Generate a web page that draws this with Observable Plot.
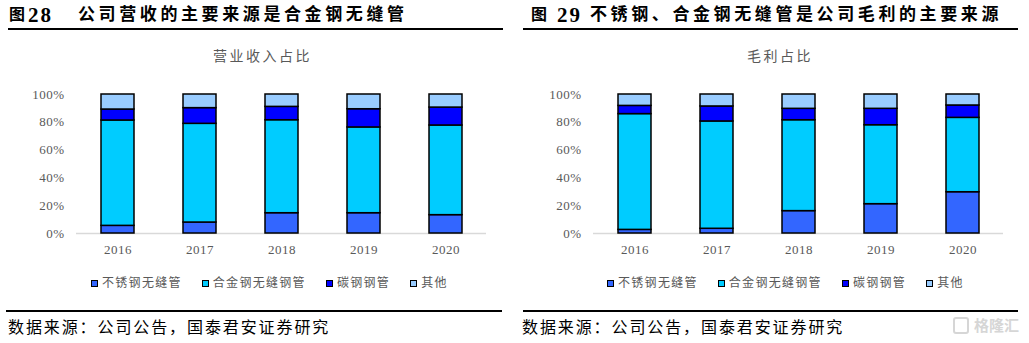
<!DOCTYPE html>
<html>
<head>
<meta charset="utf-8">
<script src="https://cdn.jsdelivr.net/npm/d3@7"></script>
<script src="https://cdn.jsdelivr.net/npm/@observablehq/plot@0.6"></script>
<style>
  html, body { margin: 0; padding: 0; background: #fff; }
  #page { position: relative; width: 1029px; height: 343px; overflow: hidden; background: #fff;
          font-family: "Liberation Serif", "Noto Sans CJK SC", serif; }
  .abs { position: absolute; white-space: nowrap; }
  .title { font-size: 17px; line-height: 20px; font-weight: bold; color: #000; letter-spacing: 3.6px; }
  .fig { font-size: 16px; line-height: 20px; font-weight: bold; color: #000; letter-spacing: 0; }
  .num { font-size: 21px; line-height: 20px; font-weight: bold; color: #000; letter-spacing: 2px; }
  .rule { position: absolute; height: 2px; background: #000; }
  .sub { font-size: 14px; line-height: 16px; color: #595959; letter-spacing: 2.5px; }
  .legend { display: flex; gap: 20px; font-size: 12px; line-height: 14px; color: #595959; letter-spacing: 1.3px; }
  .item { display: flex; align-items: center; }
  .sw { width: 5px; height: 5px; border: 1px solid #000; margin-right: 4px; }
  .src { font-size: 16px; line-height: 18px; color: #000; letter-spacing: 1.9px; }
  .wm { color: #d6d6d6; font-size: 15px; line-height: 18px; font-weight: bold; font-family: "Noto Sans CJK SC"; letter-spacing: 0px; }
  .wmicon { width: 12px; height: 13px; border: 2px solid #d6d6d6; border-radius: 3px; }
</style>
</head>
<body>
<div id="page"></div>
<script>
// ---- data ----
const years = ["2016", "2017", "2018", "2019", "2020"];
const seriesNames = ["不锈钢无缝管", "合金钢无缝钢管", "碳钢钢管", "其他"];
const seriesColors = ["#3366FF", "#00CCFF", "#0000FF", "#99CCFF"];
const yTicks = [0, 20, 40, 60, 80, 100];

// 营业收入占比 (%)
const revStainless = [5.5, 7.9, 14.6, 14.6, 13.2];
const revAlloy     = [75.8, 71.0, 66.9, 61.7, 64.5];
const revCarbon    = [7.9, 11.3, 9.6, 13.1, 12.9];
const revOther     = [10.8, 9.8, 8.9, 10.6, 9.4];

// 毛利占比 (%)
const gpStainless = [2.6, 3.4, 16.1, 21.1, 29.7];
const gpAlloy     = [83.3, 77.2, 65.4, 56.8, 53.5];
const gpCarbon    = [5.9, 10.8, 8.2, 11.8, 8.9];
const gpOther     = [8.2, 8.6, 10.3, 10.3, 7.9];

const panels = [
  {
    left: 0, figNo: "28", title: "公司营收的主要来源是合金钢无缝管",
    subtitle: "营业收入占比", series: [revStainless, revAlloy, revCarbon, revOther],
    marginLeft: 76, marginRight: 28,
    figX: 9, numX: 28, titleX: 78, ruleX: 8, ruleW: 495, subX: 213, legX: 91, srcX: 8, botX: 6, botW: 496
  },
  {
    left: 515, figNo: "29", title: "不锈钢、合金钢无缝管是公司毛利的主要来源",
    subtitle: "毛利占比", series: [gpStainless, gpAlloy, gpCarbon, gpOther],
    marginLeft: 78, marginRight: 26,
    figX: 531, numX: 557, titleX: 590, ruleX: 523, ruleW: 495, subX: 747, legX: 607, srcX: 522, botX: 523, botW: 495
  }
];

const page = document.getElementById("page");
function add(html, cls, x, y) {
  const d = document.createElement("div");
  d.className = "abs " + cls;
  d.style.left = x + "px";
  d.style.top = y + "px";
  d.innerHTML = html;
  page.appendChild(d);
  return d;
}
function rule(x, y, w) {
  const d = document.createElement("div");
  d.className = "rule";
  d.style.left = x + "px"; d.style.top = y + "px"; d.style.width = w + "px";
  page.appendChild(d);
}

for (const p of panels) {
  add("图", "fig", p.figX, 5);
  add(p.figNo, "num", p.numX, 5);
  add(p.title, "title", p.titleX, 5);
  rule(p.ruleX, 28, p.ruleW);
  add(p.subtitle, "sub", p.subX, 49);

  const data = [];
  years.forEach((yr, i) => {
    seriesNames.forEach((s, j) => data.push({year: yr, series: s, value: p.series[j][i]}));
  });

  const chart = Plot.plot({
    width: 514,
    height: 185,
    marginTop: 14,
    marginBottom: 32,
    marginLeft: p.marginLeft,
    marginRight: p.marginRight,
    style: {
      fontFamily: "Liberation Serif, serif",
      fontSize: "13px",
      color: "#595959",
      background: "transparent",
      overflow: "visible",
      letterSpacing: "0.5px"
    },
    x: {domain: years, paddingInner: 0.6, paddingOuter: 0.3, tickSize: 0, tickPadding: 11, label: null},
    y: {domain: [0, 100], ticks: yTicks, tickFormat: d => d + "%", tickSize: 0, tickPadding: 12, label: null},
    color: {domain: seriesNames, range: seriesColors},
    marks: [
      Plot.ruleY([0], {stroke: "#d9d9d9", strokeWidth: 1.5}),
      Plot.barY(data, {x: "year", y: "value", fill: "series", stroke: "#000", strokeWidth: 1.5})
    ]
  });
  const wrap = document.createElement("div");
  wrap.className = "abs";
  wrap.style.left = p.left + "px";
  wrap.style.top = "80px";
  wrap.appendChild(chart);
  page.appendChild(wrap);

  const leg = add("", "legend", p.legX, 276);
  seriesNames.forEach((s, j) => {
    const it = document.createElement("div");
    it.className = "item";
    it.innerHTML = `<span class="sw" style="background:${seriesColors[j]}"></span><span>${s}</span>`;
    leg.appendChild(it);
  });

  rule(p.botX, 310, p.botW);
  add("数据来源：公司公告，国泰君安证券研究", "src", p.srcX, 319);
}

// watermark
add("", "wmicon", 953, 317);
add("格隆汇", "wm", 974, 316);
</script>
</body>
</html>
